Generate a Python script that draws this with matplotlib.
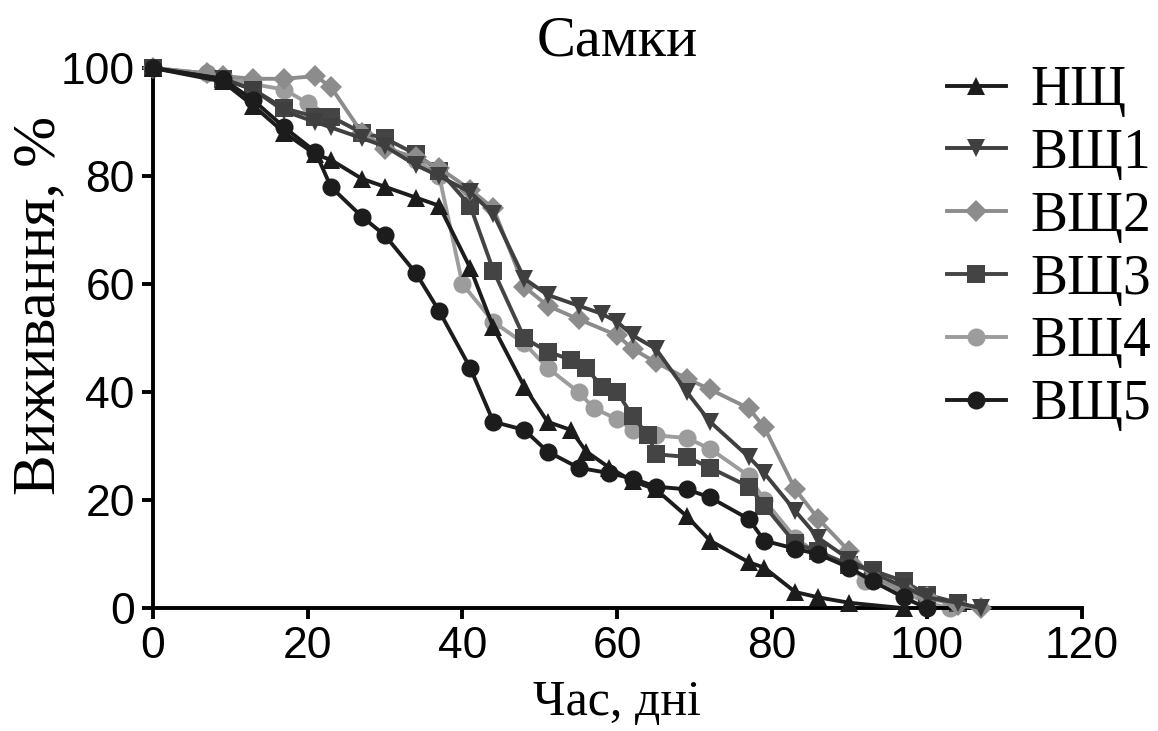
import matplotlib
matplotlib.use("Agg")
import matplotlib.pyplot as plt

# survival curves, females
nsch_days = [0, 9, 13, 17, 21, 23, 27, 30, 34, 37, 41, 44, 48, 51, 54, 56, 59, 62, 65, 69, 72, 77, 79, 83, 86, 90, 97]
nsch_vals = [100, 97.5, 93, 88, 84, 83, 79.5, 78, 76, 74.5, 63, 52, 41, 34.5, 33, 29, 26, 23.5, 22, 17, 12.5, 8.5, 7.5, 3, 2, 1, 0]

vsch1_days = [0, 9, 13, 17, 21, 23, 27, 30, 34, 37, 41, 44, 48, 51, 55, 58, 60, 62, 65, 69, 72, 77, 79, 83, 86, 90, 93, 97, 100, 104, 107]
vsch1_vals = [100, 98, 96, 92, 90, 89, 87, 85.5, 82, 80, 77, 73, 61, 58, 56, 54.5, 53, 50.5, 48, 40, 34.5, 28, 25, 18, 13, 9, 6.5, 4, 2, 1, 0]

vsch2_days = [0, 7, 9, 13, 17, 21, 23, 27, 30, 34, 37, 41, 44, 48, 51, 55, 60, 62, 65, 69, 72, 77, 79, 83, 86, 90, 93, 97, 100, 104, 107]
vsch2_vals = [100, 99, 98.5, 98, 98, 98.5, 96.5, 88, 85, 83.5, 81.5, 77.5, 74, 59.5, 56, 53.5, 50.5, 48, 45.5, 42.5, 40.5, 37, 33.5, 22, 16.5, 10.5, 5.5, 3.5, 2, 0.5, 0]

vsch3_days = [0, 9, 13, 17, 21, 23, 27, 30, 34, 37, 41, 44, 48, 51, 54, 56, 58, 60, 62, 64, 65, 69, 72, 77, 79, 83, 86, 90, 93, 97, 100, 104]
vsch3_vals = [100, 98, 96, 92.5, 91, 91, 88, 87, 84, 81, 74.5, 62.5, 50, 47.5, 46, 44.5, 41, 40, 35.5, 32, 28.5, 28, 26, 22.5, 19, 12, 10.5, 8, 7, 5, 2.5, 1]

vsch4_days = [0, 7, 13, 17, 20, 23, 27, 30, 34, 37, 40, 44, 48, 51, 55, 57, 60, 62, 65, 69, 72, 77, 79, 83, 86, 90, 92, 97, 100, 103]
vsch4_vals = [100, 99, 97, 96, 93.5, 91, 88, 85.5, 83, 80, 60, 53, 49, 44.5, 40, 37, 35, 33, 32, 31.5, 29.5, 24.5, 20, 13, 10, 8, 5, 3, 1, 0]

vsch5_days = [0, 9, 13, 17, 21, 23, 27, 30, 34, 37, 41, 44, 48, 51, 55, 59, 62, 65, 69, 72, 77, 79, 83, 86, 90, 93, 97, 100]
vsch5_vals = [100, 98, 94, 89, 84.5, 78, 72.5, 69, 62, 55, 44.5, 34.5, 33, 29, 26, 25, 24, 22.5, 22, 20.5, 16.5, 12.5, 11, 10, 7.5, 5, 2, 0]

series = [
    ("НЩ", nsch_days, nsch_vals, "^", "#1c1c1c", 6),
    ("ВЩ1", vsch1_days, vsch1_vals, "v", "#3f3f3f", 4),
    ("ВЩ2", vsch2_days, vsch2_vals, "D", "#8c8c8c", 3),
    ("ВЩ3", vsch3_days, vsch3_vals, "s", "#444444", 2),
    ("ВЩ4", vsch4_days, vsch4_vals, "o", "#9c9c9c", 1),
    ("ВЩ5", vsch5_days, vsch5_vals, "o", "#1c1c1c", 5),
]

serif = "Liberation Serif"
sans = "Liberation Sans"

fig = plt.figure(figsize=(11.58, 7.31), dpi=100)
ax = fig.add_axes([0.132, 0.168, 0.802, 0.739])

for name, x, y, m, c, z in series:
    ms = 11 if m == "D" else 13
    ax.plot(x, y, marker=m, color=c, markersize=ms, linewidth=2.8,
            markeredgewidth=0, label=name, zorder=z, clip_on=False)

ax.set_xlim(0, 120)
ax.set_ylim(0, 100)
ax.set_xticks(range(0, 121, 20))
ax.set_yticks(range(0, 101, 20))

for side in ("top", "right"):
    ax.spines[side].set_visible(False)
for side in ("left", "bottom"):
    ax.spines[side].set_linewidth(2.8)
ax.tick_params(width=2.8, length=8, direction="out", labelsize=32, pad=5)
for lab in ax.get_xticklabels() + ax.get_yticklabels():
    lab.set_fontfamily(sans)

ax.set_xlabel("Час, дні", fontsize=36, fontfamily=serif, labelpad=9)
ax.set_ylabel("Виживання, %", fontsize=44, fontfamily=serif)
ax.yaxis.set_label_coords(-0.092, 0.56)
ax.set_title("Самки", fontsize=42, fontfamily=serif, pad=0)

fig.legend(loc="upper left", bbox_to_anchor=(0.818, 0.911), frameon=False,
           prop={"family": serif, "size": 40}, handlelength=1.05,
           labelspacing=0.195, handletextpad=0.45, borderpad=0,
           borderaxespad=0)

fig.savefig("out.png", dpi=100)
